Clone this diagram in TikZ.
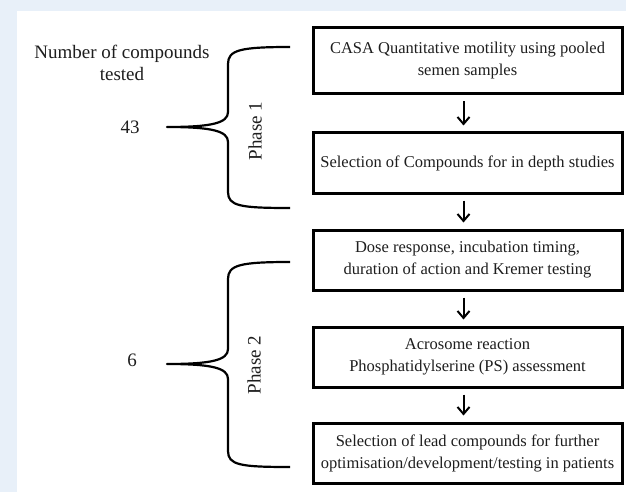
\documentclass[tikz,border=0pt]{standalone}
\usepackage{fontspec}
\setmainfont{Liberation Serif}
\usetikzlibrary{arrows.meta}

\definecolor{paleblue}{RGB}{232,240,249}
\definecolor{inkgrey}{RGB}{30,30,30}

\tikzset{
  stagebox/.style={draw, line width=3pt, minimum width=309pt, minimum height=60pt,
    align=center, inner sep=0pt, text=inkgrey, font=\fontsize{16.5}{22}\selectfont},
  nextstep/.style={line width=2pt, -{Straight Barb[length=7pt,width=12pt,line width=2pt]},
    shorten <=6pt, shorten >=6pt},
  phasebrace/.style={line width=2.2pt, line join=round},
  sidetext/.style={align=center, text=inkgrey, font=\fontsize{19}{22}\selectfont},
}

\begin{document}
\begin{tikzpicture}[x=1pt, y=-1pt]
\useasboundingbox (0,0) rectangle (626,492);
\fill[paleblue] (0,0) rectangle (626,492);
\fill[white] (17,11) rectangle (626,492);

% left column
\node[sidetext] (countlabel) at (122,63) {Number of compounds\\tested};
\node[sidetext] (count43) at (130,127) {43};
\node[sidetext] (count6) at (132,360) {6};
\node[sidetext, rotate=90] (phaseone) at (255,131) {Phase 1};
\node[sidetext, rotate=90] (phasetwo) at (254,365) {Phase 2};

% stages
\node[stagebox, minimum height=66pt] (casa) at (467.5,61) {CASA Quantitative motility using pooled\\semen samples};
\node[stagebox] (select) at (467.5,163) {Selection of Compounds for in depth studies};
\node[stagebox] (dose) at (467.5,260) {Dose response, incubation timing,\\duration of action and Kremer testing};
\node[stagebox] (acro) at (467.5,357) {Acrosome reaction\\Phosphatidylserine (PS) assessment};
\node[stagebox] (lead) at (467.5,453) {Selection of lead compounds for further\\optimisation/development/testing in patients};

\draw[nextstep] ([xshift=-4pt]casa.south) -- ([xshift=-4pt]select.north);
\draw[nextstep] ([xshift=-4pt]select.south) -- ([xshift=-4pt]dose.north);
\draw[nextstep] ([xshift=-4pt]dose.south) -- ([xshift=-4pt]acro.north);
\draw[nextstep] ([xshift=-4pt]acro.south) -- ([xshift=-4pt]lead.north);

% braces
\coordinate (b1top) at (290,47);
\coordinate (b1tip) at (167,127);
\coordinate (b1bot) at (290,208);
\draw[phasebrace] (b1top) .. controls (240,47) and (228,50) .. (228,64) -- (228,112)
  .. controls (228,123) and (212,127) .. (b1tip)
  .. controls (212,127) and (228,131) .. (228,142) -- (228,192)
  .. controls (228,206) and (240,208) .. (b1bot);

\coordinate (b2top) at (290,262);
\coordinate (b2tip) at (167,364);
\coordinate (b2bot) at (290,467);
\draw[phasebrace] (b2top) .. controls (240,262) and (228,265) .. (228,279) -- (228,349)
  .. controls (228,360) and (212,364) .. (b2tip)
  .. controls (212,364) and (228,368) .. (228,379) -- (228,451)
  .. controls (228,465) and (240,467) .. (b2bot);
\end{tikzpicture}
\end{document}
